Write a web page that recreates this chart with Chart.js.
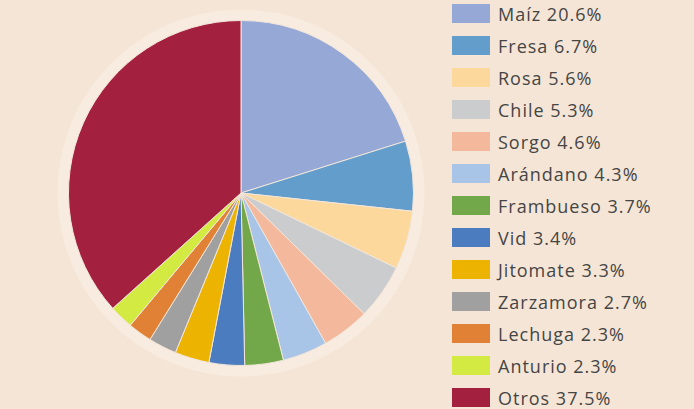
<!DOCTYPE html>
<html>
<head>
<meta charset="utf-8">
<script src="https://cdn.jsdelivr.net/npm/chart.js@4"></script>
<style>
    html, body { margin: 0; padding: 0; background: #f5e5d6; overflow: hidden; }
    #wrap { position: relative; width: 694px; height: 409px; }
    #chartBox { position: absolute; left: 0; top: 0; width: 440px; height: 409px; }
    #legend { position: absolute; left: 452px; top: 4px; margin: 0; padding: 0; list-style: none; }
    #legend li { display: flex; align-items: center; height: 19px; margin-bottom: 13px;
        font-family: "Open Sans", sans-serif; font-size: 18px; letter-spacing: 1px; color: #454545; white-space: nowrap; }
    #legend span.box { display: inline-block; width: 38px; height: 19px; margin-right: 8px; }
</style>
</head>
<body>
<div id="wrap">
    <div id="chartBox"><canvas id="canvas"></canvas></div>
    <ul id="legend"></ul>
</div>
<script>
const categories = ['Maíz', 'Fresa', 'Rosa', 'Chile', 'Sorgo', 'Arándano', 'Frambueso',
    'Vid', 'Jitomate', 'Zarzamora', 'Lechuga', 'Anturio', 'Otros'];
const shares = [20.6, 6.7, 5.6, 5.3, 4.6, 4.3, 3.7, 3.4, 3.3, 2.7, 2.3, 2.3, 37.5];
const colors = ['#95a8d6', '#629dcb', '#fcd89c', '#cbcccd', '#f4b89d', '#a8c5e8', '#72a84a',
    '#4c7cc0', '#ecb400', '#a0a0a0', '#e08135', '#d3ea43', '#a3203f'];

// light ring behind the pie
const ringPlugin = {
    id: 'ring',
    beforeDatasetsDraw(chart) {
        const arc = chart.getDatasetMeta(0).data[0];
        if (!arc) return;
        const ctx = chart.ctx;
        ctx.save();
        ctx.beginPath();
        ctx.arc(arc.x, arc.y, arc.outerRadius + 11, 0, Math.PI * 2);
        ctx.fillStyle = '#f8ece0';
        ctx.fill();
        ctx.restore();
    }
};

const config = {
    type: 'pie',
    data: {
        labels: categories,
        datasets: [{
            data: shares,
            backgroundColor: colors,
            borderColor: '#f3e6da',
            borderWidth: 1
        }]
    },
    options: {
        responsive: true,
        maintainAspectRatio: false,
        animation: false,
        layout: { padding: { left: 68, right: 26, top: 20, bottom: 43 } },
        plugins: {
            legend: { display: false },
            tooltip: { enabled: false }
        }
    },
    plugins: [ringPlugin]
};

const context = document.getElementById('canvas').getContext('2d');
const chart = new Chart(context, config);

const legend = document.getElementById('legend');
categories.forEach(function (name, i) {
    const li = document.createElement('li');
    li.innerHTML = '<span class="box" style="background:' + colors[i] + '"></span>' +
        name + ' ' + shares[i].toFixed(1) + '%';
    legend.appendChild(li);
});
</script>
</body>
</html>
